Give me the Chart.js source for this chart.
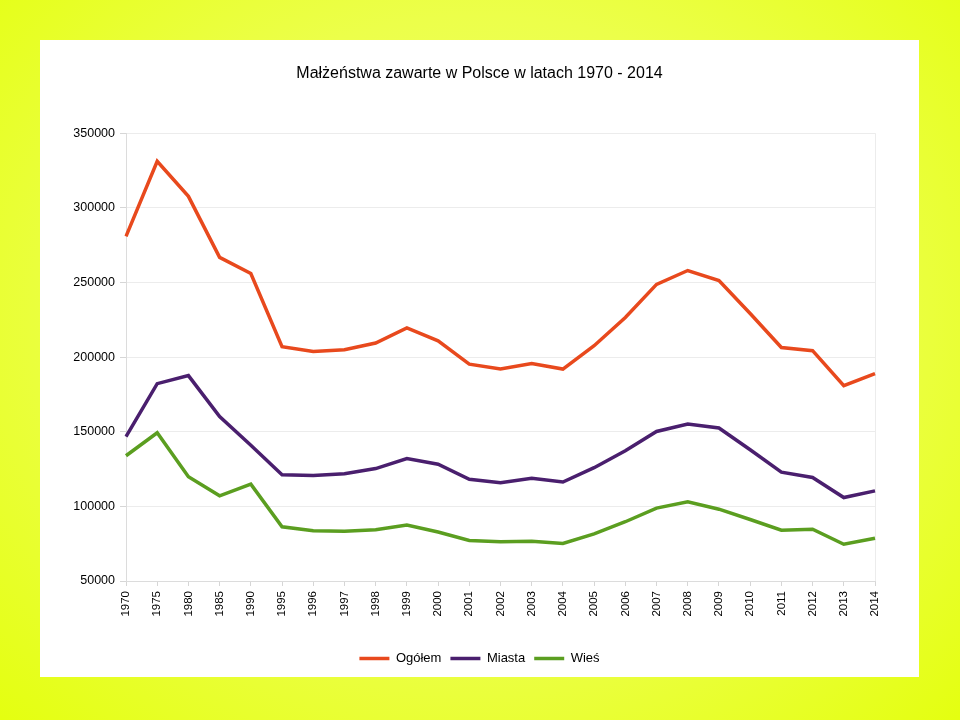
<!DOCTYPE html>
<html>
<head>
<meta charset="utf-8">
<script src="https://cdn.jsdelivr.net/npm/chart.js@4"></script>
<style>
    body {
        margin: 0;
        width: 960px;
        height: 720px;
        overflow: hidden;
        background: radial-gradient(ellipse at 50% 45%, #f1ff78 0%, #ecff4a 55%, #e4ff10 100%);
    }
    .panel {
        position: absolute;
        left: 40px;
        top: 40px;
        width: 879px;
        height: 637px;
        background: #ffffff;
    }
</style>
</head>
<body>
<div class="panel">
    <canvas id="myChart"></canvas>
</div>
<script>
const years = ['1970', '1975', '1980', '1985', '1990', '1995', '1996', '1997', '1998', '1999', '2000', '2001',
    '2002', '2003', '2004', '2005', '2006', '2007', '2008', '2009', '2010', '2011', '2012', '2013', '2014'];

const ogolem = [280900, 331200, 307700, 266800, 256000, 207000, 203700, 204900, 209400, 219500, 210900, 195300,
    192000, 195700, 192000, 207600, 226500, 248700, 258000, 251300, 229200, 206400, 204300, 180900, 188900];

const miasta = [146700, 182200, 187600, 160100, 141000, 121200, 120700, 121900, 125300, 132000, 128200, 118100,
    115900, 118800, 116300, 125900, 137300, 150200, 155200, 152500, 137900, 122900, 119400, 105900, 110400];

const wies = [133900, 149300, 119800, 107100, 114900, 86300, 83600, 83400, 84300, 87500, 82800, 77200,
    76300, 76700, 75200, 81600, 89700, 98800, 103000, 98100, 91200, 84000, 84700, 74600, 78600];

const yTicks = [50000, 100000, 150000, 200000, 250000, 300000, 350000];

const seriesNames = ['Ogółem', 'Miasta', 'Wieś'];
const seriesColors = ['#e8491d', '#4a1f6e', '#5b9e20'];

const fontFamily = '"Liberation Sans", Arial, sans-serif';

const makeDataset = (label, data, color) => {
    return {
        label: label,
        data: data,
        borderColor: color,
        backgroundColor: color,
        borderWidth: 3.5,
        pointRadius: 0,
        tension: 0,
        fill: false
    }
}

const buildChart = () => {
    var ctx = document.getElementById('myChart').getContext('2d');
    var lastIndex = years.length - 1;
    var chart = new Chart(ctx, {
        type: 'line',
        data: {
            labels: years,
            datasets: [
                makeDataset(seriesNames[0], ogolem, seriesColors[0]),
                makeDataset(seriesNames[1], miasta, seriesColors[1]),
                makeDataset(seriesNames[2], wies, seriesColors[2])
            ]
        },
        options: {
            responsive: true,
            maintainAspectRatio: false,
            animation: false,
            layout: {
                padding: { left: 33, right: 33, top: 0, bottom: 2 }
            },
            plugins: {
                title: {
                    display: true,
                    text: 'Małżeństwa zawarte w Polsce w latach 1970 - 2014',
                    color: '#000',
                    font: { family: fontFamily, size: 16, weight: 'normal' },
                    padding: { top: 24, bottom: 50 }
                },
                legend: {
                    position: 'bottom',
                    labels: {
                        color: '#000',
                        font: { family: fontFamily, size: 13 },
                        usePointStyle: true,
                        pointStyle: 'line',
                        pointStyleWidth: 30,
                        boxHeight: 13,
                        padding: 9
                    }
                },
                tooltip: { enabled: false }
            },
            scales: {
                x: {
                    offset: false,
                    afterFit: (axis) => {
                        axis.height = 62;
                    },
                    grid: {
                        color: (c) => c.index === lastIndex ? '#ececec' : 'transparent',
                        tickColor: '#d6d6d6',
                        tickLength: 5
                    },
                    border: { color: '#dcdcdc' },
                    ticks: {
                        color: '#000',
                        font: { family: fontFamily, size: 11.5 },
                        minRotation: 90,
                        maxRotation: 90,
                        padding: 5,
                        autoSkip: false
                    }
                },
                y: {
                    min: yTicks[0],
                    max: yTicks[yTicks.length - 1],
                    afterBuildTicks: (axis) => {
                        axis.ticks = yTicks.map((v) => ({ value: v }));
                    },
                    afterFit: (axis) => {
                        axis.width = 53;
                    },
                    grid: {
                        color: '#ececec',
                        tickColor: '#d6d6d6',
                        tickLength: 6
                    },
                    border: { color: '#dcdcdc' },
                    ticks: {
                        color: '#000',
                        font: { family: fontFamily, size: 12.5 },
                        padding: 5,
                        callback: (value) => String(value)
                    }
                },
                // empty spacer on the right so the plot ends where the original does
                spacer: {
                    type: 'linear',
                    position: 'right',
                    afterFit: (axis) => {
                        axis.width = 11;
                    },
                    grid: { display: false },
                    border: { display: false },
                    ticks: { display: false }
                }
            }
        }
    });
}

window.onload = () => {
    buildChart();
}
</script>
</body>
</html>
